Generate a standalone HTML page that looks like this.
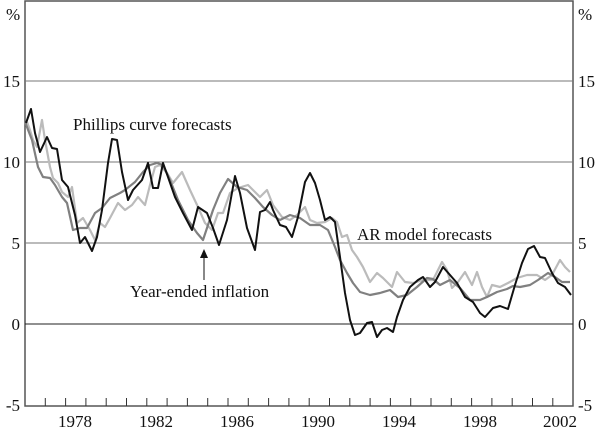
<!DOCTYPE html><html><head><style>body{margin:0;background:#fff}svg{display:block}text{font-family:"Liberation Serif",serif;fill:#111}</style></head><body>
<svg id="s" width="600" height="429" xmlns="http://www.w3.org/2000/svg">
<rect x="25" y="1" width="548" height="405" fill="none" stroke="#555" stroke-width="1.5"/>
<line x1="25" x2="573" y1="81" y2="81" stroke="#777"/>
<line x1="25" x2="573" y1="162" y2="162" stroke="#777"/>
<line x1="25" x2="573" y1="243" y2="243" stroke="#777"/>
<line x1="25" x2="573" y1="324" y2="324" stroke="#222"/>
<g id="ticks" stroke="#333"></g>
<g font-size="17">
<text x="6" y="20">%</text><text x="578" y="20">%</text>
<text x="20" y="87" text-anchor="end">15</text><text x="578" y="87">15</text>
<text x="20" y="168" text-anchor="end">10</text><text x="578" y="168">10</text>
<text x="20" y="249" text-anchor="end">5</text><text x="578" y="249">5</text>
<text x="20" y="330" text-anchor="end">0</text><text x="578" y="330">0</text>
<text x="20" y="411" text-anchor="end">-5</text><text x="578" y="411">-5</text>
<g text-anchor="middle"><text x="75" y="427">1978</text><text x="156" y="427">1982</text><text x="237" y="427">1986</text><text x="318" y="427">1990</text><text x="399" y="427">1994</text><text x="480" y="427">1998</text><text x="560" y="427">2002</text></g>
</g>
<polyline fill="none" stroke="#bbb" stroke-width="2.2" stroke-linejoin="round" points="27,122 30,130 33,140 37,147 42,120 45,140 50,167 53,178 58,183 62,192 68,197 72,187 77,223 83,218 90,230 95,240 100,223 105,227 110,218 118,203 125,210 132,205 138,197 145,205 150,185 155,167 160,165 167,173 173,183 182,172 190,190 198,207 205,223 212,230 218,213 223,213 230,193 238,188 248,185 255,192 260,197 267,190 273,205 282,217 290,220 297,215 305,207 310,220 317,223 325,222 332,218 337,222 342,237 347,235 352,250 357,257 363,267 370,282 377,273 383,278 392,287 397,272 405,282 413,283 423,280 433,280 442,262 447,270 452,288 458,282 465,272 472,285 477,272 482,287 487,297 492,285 500,287 508,283 517,278 527,275 537,275 545,280 552,275 560,260 565,267 570,272"/>
<polyline fill="none" stroke="#808080" stroke-width="2.2" stroke-linejoin="round" points="25,122 32,140 38,167 43,177 50,178 55,185 62,197 67,203 73,230 80,228 87,228 95,213 102,208 110,198 120,193 125,190 135,182 143,172 150,165 157,163 163,165 170,180 178,200 188,220 197,233 203,240 213,210 220,193 228,179 237,187 247,190 255,198 263,207 272,215 280,220 290,215 300,218 310,225 320,225 328,230 335,247 340,260 347,273 353,283 360,292 370,295 380,293 390,290 398,297 407,295 417,287 427,278 433,279 440,285 450,280 460,288 470,300 480,300 487,297 497,292 507,289 513,286 520,287 530,285 538,280 548,273 555,277 562,282 570,282"/>
<polyline fill="none" stroke="#111" stroke-width="2" stroke-linejoin="round" points="26,123 31,109 35,133 40,152 47,137 52,148 57,149 62,180 68,187 75,215 80,243 85,237 92,251 97,237 102,210 108,163 112,139 117,140 122,172 128,200 133,190 142,180 148,163 153,188 158,188 163,163 168,177 175,197 183,213 192,230 198,207 207,213 213,228 219,245 227,220 235,176 240,193 247,228 255,250 260,212 265,210 270,202 273,210 280,225 286,227 292,237 298,217 305,182 310,173 315,183 320,200 325,220 330,217 335,222 340,257 345,293 350,320 355,335 360,333 367,323 372,322 377,337 382,330 387,328 393,332 397,317 403,300 410,287 418,280 423,277 430,287 435,282 443,267 450,275 457,283 465,297 473,302 480,313 485,317 493,308 500,306 508,309 515,285 522,263 528,249 534,246 540,257 545,258 552,273 558,283 565,287 571,295"/>
<g font-size="17"><text x="73" y="130">Phillips curve forecasts</text><text x="357" y="240">AR model forecasts</text><text x="130" y="297">Year-ended inflation</text></g>
<line x1="204" y1="280" x2="204" y2="252" stroke="#111"/><path d="M200,258 L204,249 L208,258 Z" fill="#111"/>
</svg>
<script>
var g=document.getElementById('ticks'),h='';
for(var i=1;i<27;i++){var x=25+i*20.3;h+='<line x1="'+x+'" x2="'+x+'" y1="398" y2="406"/>';}
g.innerHTML=h;
</script>
</body></html>
